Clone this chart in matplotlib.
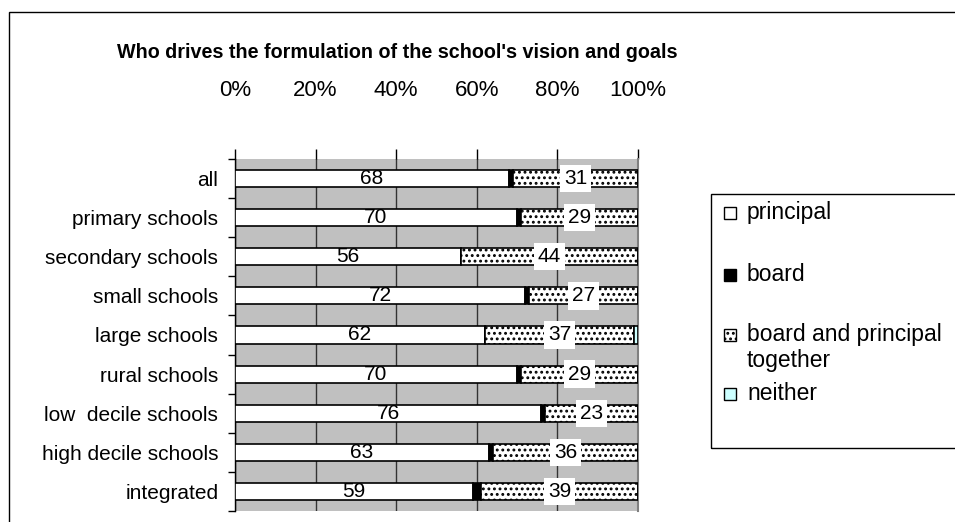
import matplotlib
matplotlib.use("Agg")
import matplotlib.pyplot as plt
from matplotlib.patches import Rectangle
import numpy as np

plt.rcParams['font.family'] = ['Liberation Sans', 'DejaVu Sans']
plt.rcParams['hatch.linewidth'] = 1.3

# Chart data
CATEGORIES = ["all", "primary schools", "secondary schools", "small schools",
              "large schools", "rural schools", "low  decile schools",
              "high decile schools", "integrated"]
PRINCIPAL = [68, 70, 56, 72, 62, 70, 76, 63, 59]
BOARD = [1, 1, 0, 1, 0, 1, 1, 1, 2]
TOGETHER = [31, 29, 44, 27, 37, 29, 23, 36, 39]
NEITHER = [0, 0, 0, 0, 1, 0, 0, 0, 0]
SERIES_NAMES = ["principal", "board", "board and principal\ntogether", "neither"]
X_TICKS = [0, 20, 40, 60, 80, 100]

TITLE = "Who drives the formulation of the school's vision and goals"

W, H = 955, 522
fig = plt.figure(figsize=(W / 100, H / 100), dpi=100)

def px(x0, y0, x1, y1):
    # pixel box -> figure fraction [left, bottom, width, height]
    return [x0 / W, 1 - y1 / H, (x1 - x0) / W, (y1 - y0) / H]

ax = fig.add_axes(px(235, 159, 638, 511))
ax.set_facecolor("#c0c0c0")

y = np.arange(len(CATEGORIES))
h = 0.44
left = np.zeros(len(CATEGORIES))
ax.barh(y, PRINCIPAL, h, left=left, color="white", edgecolor="black", lw=1.2, zorder=3)
left += PRINCIPAL
ax.barh(y, BOARD, h, left=left, color="black", edgecolor="black", lw=1.2, zorder=3)
left += BOARD
ax.barh(y, TOGETHER, h, left=left, color="white", edgecolor="black", lw=1.2,
        hatch="...", zorder=3)
left += TOGETHER
ax.barh(y, NEITHER, h, left=left, color="#ccffff", edgecolor="black", lw=1.2, zorder=3)

# value labels
start = np.array(PRINCIPAL) + np.array(BOARD)
for i in range(len(CATEGORIES)):
    ax.text(PRINCIPAL[i] / 2, y[i], f"{PRINCIPAL[i]}", ha="center", va="center",
            fontsize=15, zorder=5)
    ax.text(start[i] + TOGETHER[i] / 2, y[i], f"{TOGETHER[i]}", ha="center",
            va="center", fontsize=15, zorder=5,
            bbox=dict(facecolor="white", edgecolor="none", pad=3))

ax.set_xlim(0, 100)
ax.set_ylim(len(CATEGORIES) - 0.5, -0.5)
ax.set_xticks(X_TICKS)
ax.set_xticklabels([f"{t}%" for t in X_TICKS], fontsize=16)
ax.xaxis.tick_top()
ax.tick_params(axis="x", length=7, pad=35, color="black", width=1)
ax.set_yticks(y)
ax.set_yticklabels(CATEGORIES, fontsize=15)
ax.set_yticks(np.arange(len(CATEGORIES) + 1) - 0.5, minor=True)
ax.tick_params(axis="y", which="major", length=0, pad=12)
ax.tick_params(axis="y", which="minor", length=5, width=1, color="black")
ax.grid(axis="x", color="#333333", lw=1, zorder=1)
for s in ["top", "bottom"]:
    ax.spines[s].set_visible(False)
ax.spines["left"].set_color("black")
ax.spines["left"].set_linewidth(1)
ax.spines["right"].set_color("#808080")
ax.spines["right"].set_linewidth(1.5)

fig.text(397 / W, 1 - 52 / H, TITLE, ha="center", va="center", fontsize=14.2,
         fontweight="bold")

# outer chart border
fig.patches.append(Rectangle((9 / W, -0.1), 1.1, 1 - 12 / H + 0.1,
                             transform=fig.transFigure, fill=False,
                             edgecolor="black", lw=1))

# legend box, drawn by hand to match the uneven spacing
fig.patches.append(Rectangle((711 / W, 1 - 448 / H), 0.5, (448 - 194) / H,
                             transform=fig.transFigure, fill=False,
                             edgecolor="black", lw=1))
leg_y = [213, 275, 335, 394]
leg_face = ["white", "black", "white", "#ccffff"]
leg_hatch = [None, None, "...", None]
for name, yy, fc, ht in zip(SERIES_NAMES, leg_y, leg_face, leg_hatch):
    fig.patches.append(Rectangle((724 / W, 1 - (yy + 6) / H), 12 / W, 12 / H,
                                 transform=fig.transFigure, facecolor=fc,
                                 edgecolor="black", lw=1, hatch=ht))
    fig.text(747 / W, 1 - (yy - 12) / H, name, ha="left", va="top",
             fontsize=16.5, linespacing=1.15,
             transform=fig.transFigure)

fig.savefig("out.png", dpi=100)
